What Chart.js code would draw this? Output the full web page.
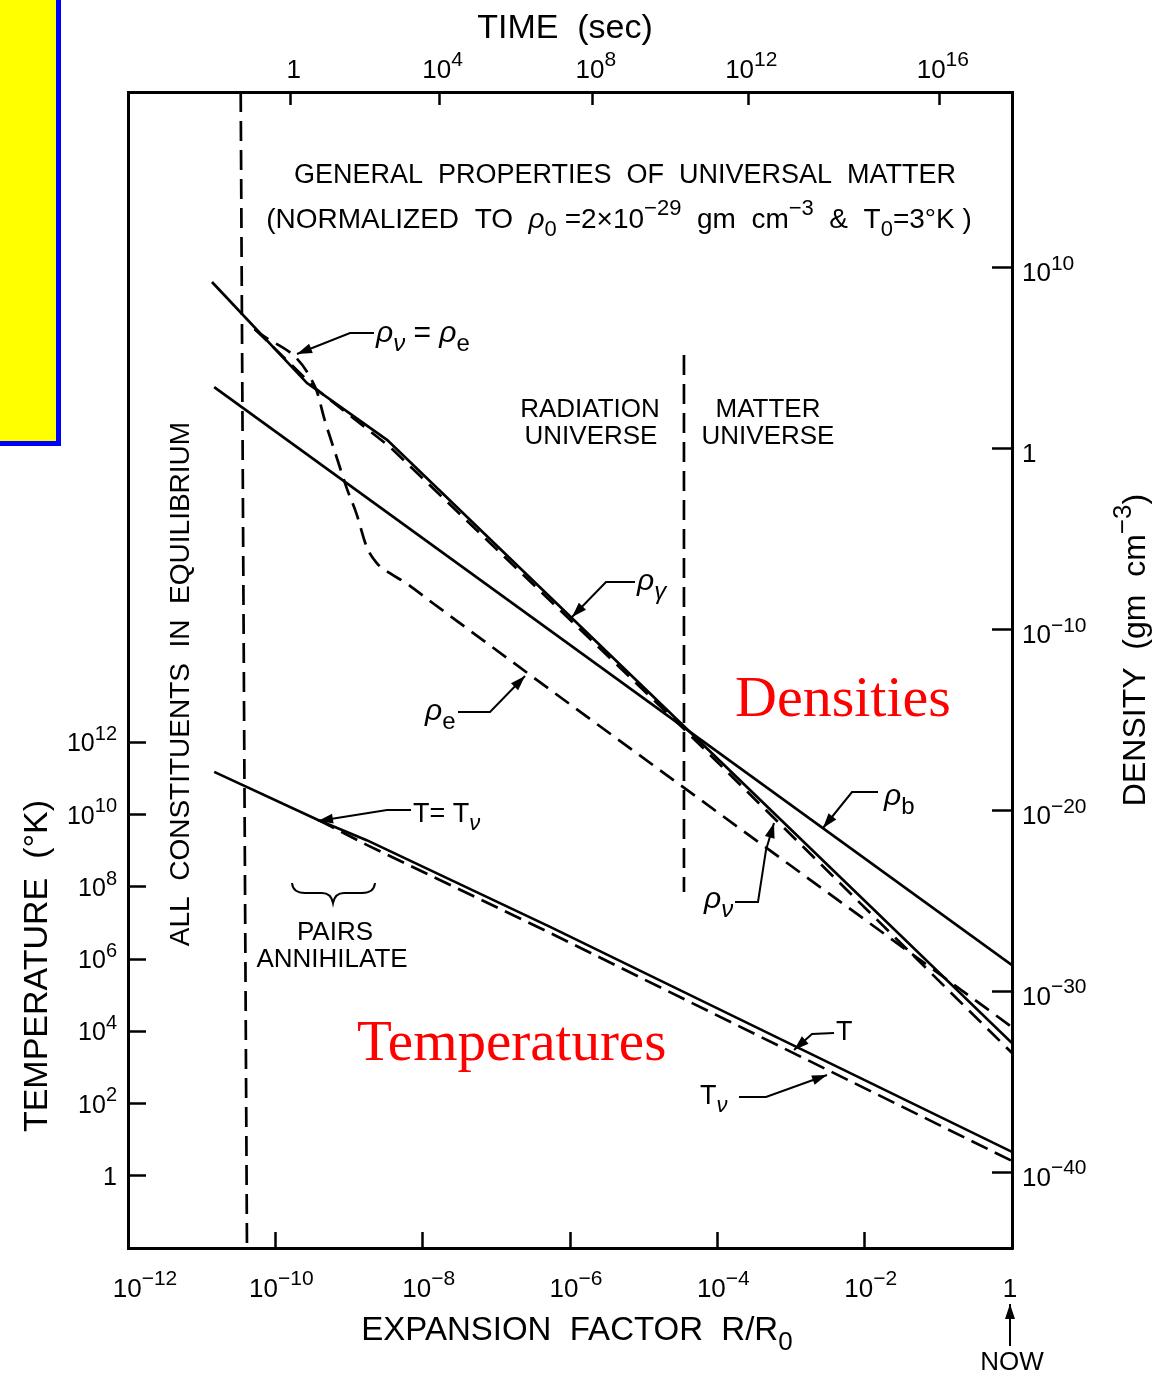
<!DOCTYPE html>
<html>
<head>
<meta charset="utf-8">
<script src="https://cdn.jsdelivr.net/npm/chart.js@4.4.1/dist/chart.umd.min.js"></script>
<style>
html, body { margin: 0; padding: 0; background: #fff; }
#wrap { position: relative; width: 1170px; height: 1374px; }
#tab { position: absolute; left: 0; top: 0; width: 56px; height: 441px; background: #ffff00;
       border-right: 5px solid #0000ff; border-bottom: 5px solid #0000ff; }
</style>
</head>
<body>
<div id="wrap"><canvas id="chart"></canvas><div id="tab"></div></div>
<script>
// all values are log10 of the quantity
// x = log10(R/R0), densities in log10(gm cm^-3), temperatures in log10(K)
var rhoGammaR = [-10.86, -9.57, -8.48, -4.47, 0];
var rhoGammaD = [9.20, 3.61, 0.46, -15.29, -32.87];

var rhoBaryonR = [-10.83, 0];
var rhoBaryonD = [3.39, -28.56];

var rhoNuR = [-10.28, -9.45, -8.45, -4.47, 0];
var rhoNuD = [6.6, 3.3, 0.1, -15.45, -33.42];

var rhoElecR = [-10.28, -9.45, -9.33, -9.17, -9.03, -8.90, -8.76, -8.62, -8.44, -8.22, -7.86, 0];
var rhoElecD = [6.6, 3.3, 1.57, -0.46, -2.21, -3.59, -5.44, -6.35, -6.91, -7.46, -8.56, -31.99];

var tempR = [-10.83, -9.42, -8.76, -6.27, 0];
var tempT = [11.18, 9.85, 9.29, 6.89, 0.66];

var tempNuR = [-9.42, -8.76, -6.27, 0];
var tempNuT = [9.85, 9.16, 6.72, 0.41];

// boundaries: equilibrium edge and radiation / matter split
var equilR = [-10.47, -10.385];
var equilD = [19.7, -44.2];
var splitR = [-4.453, -4.453];
var splitD = [5.16, -24.52];

// axes
var expTicks = [-12, -10, -8, -6, -4, -2, 0];
var expLabels = ['10^{\u221212}', '10^{\u221210}', '10^{\u22128}', '10^{\u22126}', '10^{\u22124}', '10^{\u22122}', '1'];
var timeTickR = [-9.79, -7.77, -5.69, -3.58, -0.98];
var timeLabels = ['1', '10^{4}', '10^{8}', '10^{12}', '10^{16}'];
var tempTicks = [0, 2, 4, 6, 8, 10, 12];
var tempLabels = ['1', '10^{2}', '10^{4}', '10^{6}', '10^{8}', '10^{10}', '10^{12}'];
var densTicks = [10, 0, -10, -20, -30, -40];
var densLabels = ['10^{10}', '1', '10^{\u221210}', '10^{\u221220}', '10^{\u221230}', '10^{\u221240}'];

var FONT = '"Liberation Sans", Arial, sans-serif';

function pts(xs, ys) {
    return xs.map(function (x, i) { return { x: x, y: ys[i] }; });
}

// tiny markup: ^{..} superscript, _{..} subscript, greek letters in italics
function runs(str) {
    var out = [], buf = '', i = 0;
    while (i < str.length) {
        var c = str[i];
        if ((c === '^' || c === '_') && str[i + 1] === '{') {
            if (buf) { out.push({ t: buf, k: 'n' }); buf = ''; }
            var j = str.indexOf('}', i);
            out.push({ t: str.slice(i + 2, j), k: c === '^' ? 'sup' : 'sub' });
            i = j + 1;
        } else { buf += c; i++; }
    }
    if (buf) out.push({ t: buf, k: 'n' });
    return out;
}

function pieces(str, size, family) {
    var res = [];
    runs(str).forEach(function (r) {
        var s = r.k === 'n' ? size : Math.round(size * 0.8);
        var dy = r.k === 'sup' ? -size * 0.45 : (r.k === 'sub' ? size * 0.3 : 0);
        r.t.split(/([\u03c1\u03bd\u03b3])/).forEach(function (p) {
            if (!p) return;
            var greek = /[\u03c1\u03bd\u03b3]/.test(p);
            res.push({ t: p, font: (greek ? 'italic ' : '') + s + 'px ' + family, dy: dy });
        });
    });
    return res;
}

function drawRich(ctx, str, x, y, size, align, family) {
    var ps = pieces(str, size, family || FONT);
    var w = 0;
    ps.forEach(function (p) { ctx.font = p.font; p.w = ctx.measureText(p.t).width; w += p.w; });
    var cx = align === 'center' ? x - w / 2 : (align === 'right' ? x - w : x);
    ctx.textAlign = 'left';
    ctx.textBaseline = 'alphabetic';
    ps.forEach(function (p) { ctx.font = p.font; ctx.fillText(p.t, cx, y + p.dy); cx += p.w; });
}

function drawRotated(ctx, str, x, y, size) {
    ctx.save();
    ctx.translate(x, y);
    ctx.rotate(-Math.PI / 2);
    drawRich(ctx, str, 0, 0, size, 'center');
    ctx.restore();
}

function leader(ctx, path) {
    ctx.beginPath();
    ctx.moveTo(path[0][0], path[0][1]);
    for (var i = 1; i < path.length; i++) ctx.lineTo(path[i][0], path[i][1]);
    ctx.stroke();
    var a = path[path.length - 2], b = path[path.length - 1];
    var ang = Math.atan2(b[1] - a[1], b[0] - a[0]);
    ctx.save();
    ctx.translate(b[0], b[1]);
    ctx.rotate(ang);
    ctx.beginPath();
    ctx.moveTo(0, 0);
    ctx.lineTo(-15, -5);
    ctx.lineTo(-15, 5);
    ctx.closePath();
    ctx.fill();
    ctx.restore();
}

var notes = {
    id: 'notes',
    afterDraw: function (chart) {
        var ctx = chart.ctx;
        ctx.save();
        ctx.fillStyle = '#000';
        ctx.strokeStyle = '#000';
        ctx.lineWidth = 2;

        // tick labels
        var sx = chart.scales.x, st = chart.scales.xTop, sT = chart.scales.yT, sD = chart.scales.yD;
        expTicks.forEach(function (v, i) {
            var px = sx.getPixelForValue(v) + (expLabels[i] === '1' ? -2 : 6);
            drawRich(ctx, expLabels[i], Math.max(px, 145), 1297, 26, 'center');
        });
        timeTickR.forEach(function (v, i) {
            drawRich(ctx, timeLabels[i], st.getPixelForValue(v) + 3, 78, 26, 'center');
        });
        tempTicks.forEach(function (v, i) {
            drawRich(ctx, tempLabels[i], 117, sT.getPixelForValue(v) + 9, 25, 'right');
        });
        densTicks.forEach(function (v, i) {
            drawRich(ctx, densLabels[i], 1022, sD.getPixelForValue(v) + 14, 26, 'left');
        });

        // axis titles
        drawRich(ctx, 'TIME  (sec)', 565, 38, 34, 'center');
        drawRich(ctx, 'EXPANSION  FACTOR  R/R_{0}', 577, 1340, 33, 'center');
        drawRotated(ctx, 'TEMPERATURE  (\u00b0K)', 47, 966, 34);
        drawRotated(ctx, 'DENSITY  (gm  cm^{\u22123})', 1145, 650, 32);
        drawRotated(ctx, 'ALL  CONSTITUENTS  IN  EQUILIBRIUM', 189, 684, 28);

        // headings inside the frame
        drawRich(ctx, 'GENERAL  PROPERTIES  OF  UNIVERSAL  MATTER', 625, 183, 27, 'center');
        drawRich(ctx, '(NORMALIZED  TO  \u03c1_{0} =2\u00d710^{\u221229}  gm  cm^{\u22123}  &  T_{0}=3\u00b0K )', 619, 228, 28, 'center');
        drawRich(ctx, 'RADIATION', 590, 417, 26, 'center');
        drawRich(ctx, 'UNIVERSE', 591, 444, 26, 'center');
        drawRich(ctx, 'MATTER', 768, 417, 26, 'center');
        drawRich(ctx, 'UNIVERSE', 768, 444, 26, 'center');
        drawRich(ctx, 'PAIRS', 335, 940, 26, 'center');
        drawRich(ctx, 'ANNIHILATE', 332, 967, 26, 'center');

        // curve labels and their pointers
        drawRich(ctx, '\u03c1_{\u03bd} = \u03c1_{e}', 376, 342, 30, 'left');
        drawRich(ctx, '\u03c1_{\u03b3}', 637, 590, 30, 'left');
        drawRich(ctx, '\u03c1_{e}', 425, 720, 30, 'left');
        drawRich(ctx, '\u03c1_{b}', 884, 805, 30, 'left');
        drawRich(ctx, '\u03c1_{\u03bd}', 704, 908, 30, 'left');
        drawRich(ctx, 'T= T_{\u03bd}', 413, 822, 27, 'left');
        drawRich(ctx, 'T', 836, 1040, 27, 'left');
        drawRich(ctx, 'T_{\u03bd}', 700, 1104, 27, 'left');
        drawRich(ctx, 'NOW', 1012, 1370, 26, 'center');

        leader(ctx, [[374, 333], [350, 333], [297, 354]]);
        leader(ctx, [[635, 582], [606, 582], [572, 617]]);
        leader(ctx, [[458, 712], [490, 712], [525, 676]]);
        leader(ctx, [[878, 792], [852, 792], [823, 828]]);
        leader(ctx, [[735, 902], [758, 902], [766, 850], [774, 823]]);
        leader(ctx, [[411, 810], [387, 810], [318, 821]]);
        leader(ctx, [[834, 1033], [812, 1034], [794, 1050]]);
        leader(ctx, [[739, 1097], [766, 1097], [827, 1075]]);
        leader(ctx, [[1010, 1346], [1010, 1304]]);

        // brace over PAIRS ANNIHILATE
        ctx.beginPath();
        ctx.moveTo(292, 883);
        ctx.quadraticCurveTo(293, 893, 305, 893);
        ctx.lineTo(322, 893);
        ctx.quadraticCurveTo(331, 893, 333, 903);
        ctx.quadraticCurveTo(335, 893, 344, 893);
        ctx.lineTo(362, 893);
        ctx.quadraticCurveTo(374, 893, 375, 883);
        ctx.stroke();

        // red captions
        ctx.fillStyle = '#ff0000';
        ctx.font = '58px "Liberation Serif", "Times New Roman", serif';
        ctx.textAlign = 'left';
        ctx.fillText('Densities', 735, 716);
        ctx.font = '57px "Liberation Serif", "Times New Roman", serif';
        ctx.fillText('Temperatures', 357, 1060);
        ctx.restore();
    }
};

function lineSet(label, data, axis, dash, extra) {
    var d = {
        label: label,
        data: data,
        yAxisID: axis,
        borderColor: '#000',
        borderWidth: 2.7,
        borderDash: dash,
        pointRadius: 0,
        fill: false,
        tension: 0
    };
    for (var k in extra) d[k] = extra[k];
    return d;
}

var frame = { display: true, color: '#000', width: 3 };
function axisGrid(len) {
    return { drawOnChartArea: false, drawTicks: true, tickLength: len, tickWidth: 2.5, tickColor: '#000', color: '#000' };
}
function fixedTicks(list) {
    return function (axis) { axis.ticks = list.map(function (v) { return { value: v }; }); };
}

var chart = new Chart('chart', {
    type: 'line',
    data: {
        datasets: [
            lineSet('rho_gamma', pts(rhoGammaR, rhoGammaD), 'yD', []),
            lineSet('rho_b', pts(rhoBaryonR, rhoBaryonD), 'yD', []),
            lineSet('rho_nu', pts(rhoNuR, rhoNuD), 'yD', [17, 9]),
            lineSet('rho_e', pts(rhoElecR, rhoElecD), 'yD', [17, 9], { cubicInterpolationMode: 'monotone' }),
            lineSet('T', pts(tempR, tempT), 'yT', []),
            lineSet('T_nu', pts(tempNuR, tempNuT), 'yT', [18, 8]),
            lineSet('equilibrium', pts(equilR, equilD), 'yD', [20, 9]),
            lineSet('radiation/matter', pts(splitR, splitD), 'yD', [20, 9])
        ]
    },
    options: {
        responsive: true,
        maintainAspectRatio: false,
        animation: false,
        devicePixelRatio: 1,
        layout: { padding: 0 },
        plugins: { legend: { display: false }, tooltip: { enabled: false } },
        scales: {
            x: {
                type: 'linear', position: 'bottom', min: -12, max: 0,
                border: frame, grid: axisGrid(-16), ticks: { display: false },
                afterBuildTicks: fixedTicks(expTicks),
                afterFit: function (axis) { axis.height = 126; }
            },
            xTop: {
                type: 'linear', position: 'top', min: -12, max: 0,
                border: frame, grid: axisGrid(-13), ticks: { display: false },
                afterBuildTicks: fixedTicks(timeTickR),
                afterFit: function (axis) { axis.height = 92; }
            },
            yT: {
                type: 'linear', position: 'left', min: -2, max: 30,
                border: frame, grid: axisGrid(-18), ticks: { display: false },
                afterBuildTicks: fixedTicks(tempTicks),
                afterFit: function (axis) { axis.width = 128; }
            },
            yD: {
                type: 'linear', position: 'right', min: -44.2, max: 19.7,
                border: frame, grid: axisGrid(-20), ticks: { display: false },
                afterBuildTicks: fixedTicks(densTicks),
                afterFit: function (axis) { axis.width = 158; }
            }
        }
    },
    plugins: [notes]
});
</script>
</body>
</html>
